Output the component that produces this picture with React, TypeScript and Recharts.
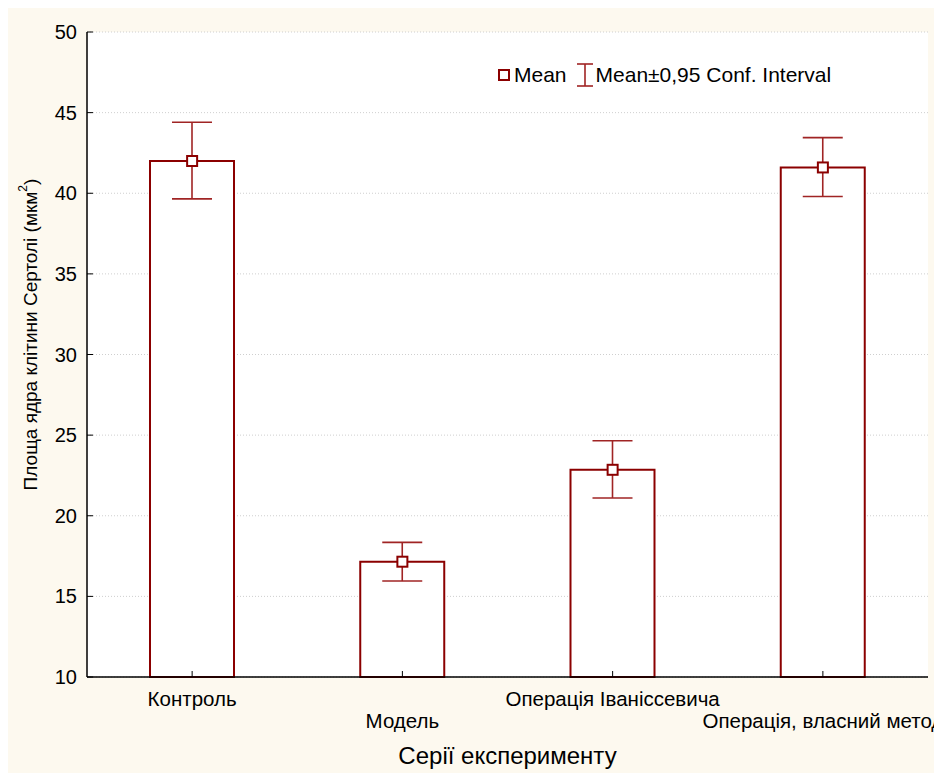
import React from "react";
import {
  ComposedChart,
  Bar,
  Scatter,
  ErrorBar,
  XAxis,
  YAxis,
  CartesianGrid,
  Legend,
} from "recharts";

const categories = [
  "Контроль",
  "Модель",
  "Операція Іваніссевича",
  "Операція, власний метод",
];
const means = [42.0, 17.15, 22.85, 41.6];
const ciLow = [39.65, 15.95, 21.1, 39.8];
const ciHigh = [44.4, 18.35, 24.65, 43.45];
const yTicks = [10, 15, 20, 25, 30, 35, 40, 45, 50];

const data = categories.map((name, i) => ({
  name,
  mean: means[i],
  err: [means[i] - ciLow[i], ciHigh[i] - means[i]],
}));

const FONT = "'Liberation Sans', Arial, sans-serif";
const DARK_RED = "#8b0000";
const ERR_RED = "#a02424";
const BG = "#fdf9ef";
const Y_TICK_MARGIN = 10;

const LeftTick = (props: any) => {
  const { x, y, payload } = props;
  const axisX = x + Y_TICK_MARGIN;
  return (
    <g>
      <line x1={axisX} y1={y} x2={axisX + 6} y2={y} stroke="#000" strokeWidth={1} />
      <text x={x} y={y} dy="0.35em" textAnchor="end" fontSize={20} fontFamily={FONT} fill="#000">
        {payload.value}
      </text>
    </g>
  );
};

const RightTick = (props: any) => {
  const { x, y } = props;
  return <line x1={x} y1={y} x2={x - 6} y2={y} stroke="#000" strokeWidth={1} />;
};

const TopTick = (props: any) => {
  const { x, y } = props;
  return <line x1={x} y1={y} x2={x} y2={y + 6} stroke="#000" strokeWidth={1} />;
};

const BottomTick = (props: any) => {
  const { x, y, payload, index } = props;
  // labels alternate between two rows so the long names don't collide
  const row = index % 2 === 0 ? 29 : 51;
  return (
    <g>
      <line x1={x} y1={y} x2={x} y2={y - 6} stroke="#000" strokeWidth={1} />
      <text x={x} y={y + row} textAnchor="middle" fontSize={20.5} fontFamily={FONT} fill="#000">
        {payload.value}
      </text>
    </g>
  );
};

const MeanMarker = (props: any) => {
  const { cx, cy } = props;
  return (
    <rect x={cx - 5} y={cy - 5} width={10} height={10} fill="#fff" stroke={DARK_RED} strokeWidth={2} />
  );
};

const YTitle = (props: any) => {
  const { viewBox } = props;
  const cx = 22;
  const cy = viewBox.y + viewBox.height / 2 - 20;
  return (
    <text
      x={cx}
      y={cy}
      transform={`rotate(-90, ${cx}, ${cy})`}
      textAnchor="middle"
      dominantBaseline="central"
      fontSize={19}
      fontFamily={FONT}
      fill="#000"
    >
      Площа ядра клітини Сертолі (мкм
      <tspan fontSize={12} dy={-7}>2</tspan>
      <tspan dy={7}>)</tspan>
    </text>
  );
};

const XTitle = (props: any) => {
  const { viewBox } = props;
  return (
    <text
      x={viewBox.x + viewBox.width / 2}
      y={viewBox.y + 87}
      textAnchor="middle"
      fontSize={24}
      fontFamily={FONT}
      fill="#000"
    >
      Серії експерименту
    </text>
  );
};

const LegendContent = () => (
  <div style={{ display: "flex", alignItems: "center", fontFamily: FONT, fontSize: 21, color: "#000", whiteSpace: "nowrap" }}>
    <svg width={12} height={12} style={{ marginRight: 4 }}>
      <rect x={1} y={1} width={10} height={10} fill="#fff" stroke={DARK_RED} strokeWidth={2} />
    </svg>
    <span>Mean</span>
    <svg width={18} height={26} style={{ marginLeft: 9, marginRight: 2 }}>
      <line x1={1} y1={2} x2={17} y2={2} stroke={ERR_RED} strokeWidth={1.6} />
      <line x1={9} y1={2} x2={9} y2={24} stroke={ERR_RED} strokeWidth={1.6} />
      <line x1={1} y1={24} x2={17} y2={24} stroke={ERR_RED} strokeWidth={1.6} />
    </svg>
    <span>Mean±0,95 Conf. Interval</span>
  </div>
);

export default function App() {
  return (
    <div style={{ width: 934, height: 765, background: BG }}>
      <style>{"body{overflow:hidden} .recharts-wrapper, .recharts-wrapper svg{overflow:visible !important}"}</style>
      <ComposedChart
        width={934}
        height={765}
        data={data}
        margin={{ top: 24, right: 14, bottom: 0, left: 0 }}
        barCategoryGap="0%"
        style={{ overflow: "visible" }}
      >
        <CartesianGrid vertical={false} stroke="#cfcfcf" strokeDasharray="1 2" fill="#fff" />
        <XAxis
          dataKey="name"
          height={96}
          axisLine={{ stroke: "#000", strokeWidth: 1.5 }}
          tickLine={false}
          tickSize={0}
          tickMargin={0}
          tick={<BottomTick />}
          interval={0}
          label={<XTitle />}
        />
        <XAxis
          xAxisId="top"
          dataKey="name"
          orientation="top"
          height={0}
          axisLine={{ stroke: "#000", strokeWidth: 1.5 }}
          tickLine={false}
          tickSize={0}
          tickMargin={0}
          tick={<TopTick />}
          interval={0}
        />
        <YAxis
          width={79}
          domain={[10, 50]}
          ticks={yTicks}
          axisLine={{ stroke: "#000", strokeWidth: 1.5 }}
          tickLine={false}
          tickSize={0}
          tickMargin={Y_TICK_MARGIN}
          tick={<LeftTick />}
          interval={0}
          label={<YTitle />}
        />
        <YAxis
          yAxisId="right"
          orientation="right"
          width={0}
          domain={[10, 50]}
          ticks={yTicks}
          axisLine={{ stroke: "#000", strokeWidth: 1.5 }}
          tickLine={false}
          tickSize={0}
          tickMargin={0}
          tick={<RightTick />}
          interval={0}
        />
        <Legend
          layout="vertical"
          align="center"
          verticalAlign="middle"
          content={<LegendContent />}
          wrapperStyle={{ top: 54, left: 490, width: "auto" }}
        />
        <Bar
          dataKey="mean"
          fill="#fff"
          stroke={DARK_RED}
          strokeWidth={2}
          barSize={84}
          isAnimationActive={false}
        >
          <ErrorBar dataKey="err" width={20} stroke={ERR_RED} strokeWidth={1.6} direction="y" />
        </Bar>
        <Scatter dataKey="mean" shape={<MeanMarker />} isAnimationActive={false} />
      </ComposedChart>
    </div>
  );
}
